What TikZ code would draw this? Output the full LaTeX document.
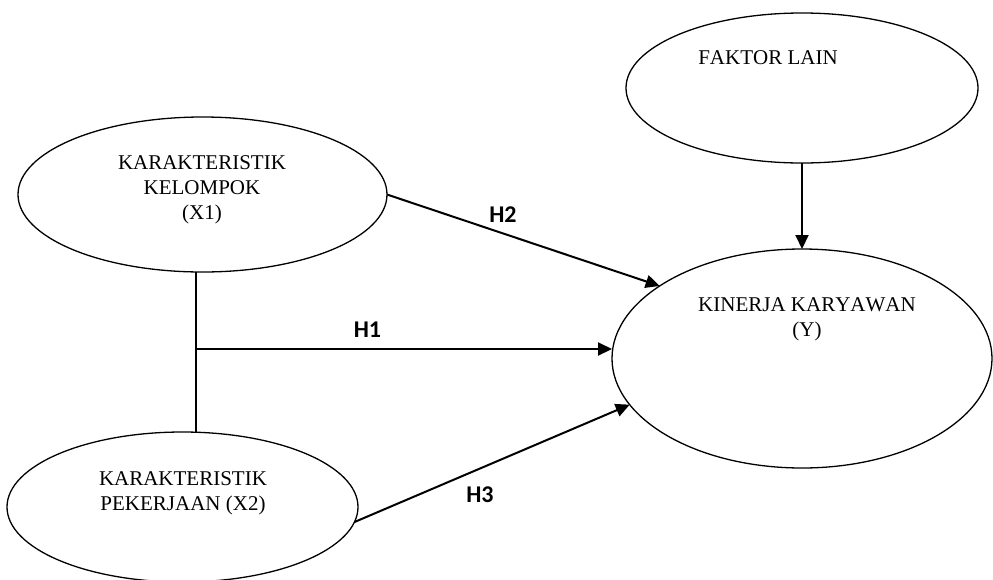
\documentclass[tikz,border=0pt]{standalone}
\usepackage{fontspec}
\setmainfont{Liberation Serif}[Kerning=Off]
\newfontfamily\hfont{Carlito}
\usetikzlibrary{arrows.meta,shapes.geometric,calc}
\begin{document}
\begin{tikzpicture}[x=1pt,y=-1pt,
  ell/.style={draw, ellipse, line width=1.3pt, inner sep=0pt, outer sep=0pt},
  txt/.style={font=\fontsize{21}{25}\selectfont, align=center, inner sep=0pt},
  hyp/.style={font=\hfont\bfseries\fontsize{24}{28}\selectfont, inner sep=0pt},
  arr/.style={line width=2pt, -{Triangle[length=14pt,width=13pt]}},
  conn/.style={line width=1.6pt}]
\useasboundingbox (0,0) rectangle (993,579);

% ellipses
\node[ell, minimum width=369pt, minimum height=155pt] (X1) at (202.5,194.5) {};
\node[ell, minimum width=351pt, minimum height=150pt] (X2) at (182.5,507) {};
\node[ell, minimum width=352pt, minimum height=150pt] (F)  at (802,88) {};
\node[ell, minimum width=380pt, minimum height=219pt] (Y)  at (802,358.5) {};

% texts
\node[txt] (tX1) at (202,190) {KARAKTERISTIK\\KELOMPOK\\(X1)};
\node[txt] (tX2) at (183,493) {KARAKTERISTIK\\PEKERJAAN (X2)};
\node[txt, anchor=base] (tF) at (768,64) {FAKTOR LAIN};
\node[txt] (tY) at (807,319) {KINERJA KARYAWAN\\(Y)};

% connectors
\draw[conn] (X1.265) -- (X1.265 |- X2.north);
\coordinate (jy) at (0,349);
\coordinate (j) at (X1.265 |- jy);
\draw[arr] (j) -- (j -| Y.west);
\draw[arr] (X1.east) -- (Y.153);
\draw[arr] (X2.355) -- (Y.195);
\draw[arr] (F.south) -- (Y.north);

% hypothesis labels
\node[hyp] (H1) at (367.5,330) {H1};
\node[hyp] (H2) at (503,214.5) {H2};
\node[hyp] (H3) at (480,494.5) {H3};
\end{tikzpicture}
\end{document}
